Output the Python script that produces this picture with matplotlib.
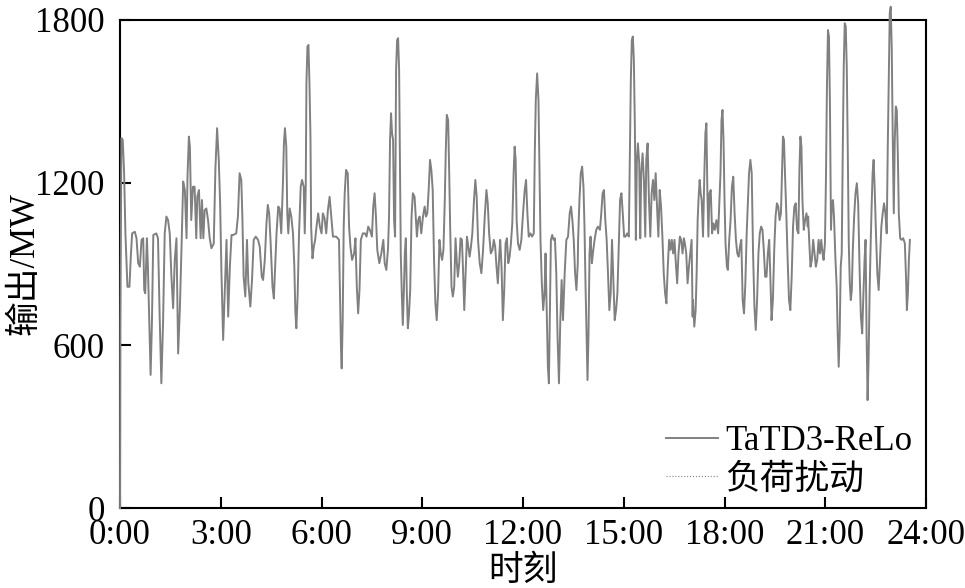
import matplotlib
matplotlib.use('Agg')
from matplotlib import pyplot as plt

plt.rcParams['font.family'] = ['Liberation Serif', 'Noto Sans CJK SC']
plt.rcParams['font.size'] = 25

# time (h) and output (MW)
t_h = [0.00, 0.01, 0.04, 0.08, 0.12, 0.16, 0.22, 0.28, 0.32, 0.36, 0.44, 0.49, 0.54, 0.59, 0.64, 0.69,
       0.72, 0.75, 0.80, 0.83, 0.88, 0.91, 0.95, 0.99, 1.08, 1.13, 1.18, 1.23, 1.28, 1.33, 1.38, 1.43,
       1.48, 1.53, 1.58, 1.63, 1.68, 1.73, 1.78, 1.83, 1.88, 1.93, 1.98, 2.01, 2.05, 2.08, 2.12, 2.17,
       2.22, 2.27, 2.30, 2.35, 2.40, 2.44, 2.48, 2.52, 2.57, 2.62, 2.67, 2.72, 2.79, 2.84, 2.89, 2.94,
       2.98, 3.02, 3.07, 3.12, 3.17, 3.22, 3.27, 3.32,
       3.37, 3.46, 3.51, 3.56, 3.61, 3.64, 3.68, 3.73, 3.78, 3.82, 3.88, 3.93, 3.98, 4.04, 4.11, 4.16,
       4.22, 4.26, 4.31, 4.36, 4.40, 4.44, 4.48, 4.54, 4.58, 4.62, 4.66, 4.71, 4.75, 4.80, 4.85, 4.88,
       4.91, 4.95, 4.98, 5.01, 5.05, 5.10, 5.15, 5.19, 5.22, 5.25, 5.29, 5.33, 5.38, 5.42, 5.47, 5.50,
       5.53, 5.55, 5.58, 5.61, 5.64, 5.67, 5.69, 5.73, 5.77, 5.81, 5.85, 5.90, 5.95, 6.00, 6.04, 6.09,
       6.14, 6.19, 6.24, 6.29, 6.34, 6.44, 6.52, 6.55, 6.58, 6.60, 6.63, 6.66, 6.69, 6.73, 6.78,
       6.82, 6.86, 6.91, 6.97, 7.01, 7.05, 7.09, 7.13, 7.17, 7.23, 7.29, 7.34, 7.39, 7.44, 7.50, 7.54,
       7.58, 7.62, 7.66, 7.72, 7.78, 7.84, 7.88, 7.93, 7.98, 8.01, 8.04, 8.07, 8.10, 8.13, 8.16, 8.19,
       8.22, 8.25, 8.28, 8.31, 8.34, 8.36, 8.39, 8.42, 8.45, 8.48, 8.51, 8.54, 8.57, 8.60, 8.64, 8.68,
       8.72, 8.77, 8.81, 8.84, 8.88, 8.92, 8.97, 9.02, 9.07, 9.11, 9.15, 9.19, 9.23, 9.27, 9.31, 9.35,
       9.39, 9.43, 9.47, 9.51, 9.55, 9.59, 9.63, 9.67, 9.70, 9.73, 9.77, 9.80, 9.83, 9.87, 9.91, 9.95,
       9.99, 10.03, 10.06, 10.10, 10.14, 10.18,
       10.21, 10.25, 10.29, 10.33, 10.37, 10.41, 10.45, 10.49, 10.54, 10.58, 10.62, 10.66, 10.71, 10.76,
       10.81, 10.86, 10.91, 10.95, 10.99, 11.04, 11.09, 11.13, 11.17, 11.21, 11.25, 11.29, 11.32, 11.36,
       11.40, 11.44, 11.48, 11.52, 11.56, 11.60, 11.64, 11.68, 11.72, 11.75, 11.78, 11.81, 11.85, 11.90,
       11.95, 12.00, 12.05, 12.09, 12.13, 12.17, 12.22, 12.27, 12.32, 12.35, 12.38, 12.42, 12.46, 12.49,
       12.52, 12.56, 12.60, 12.64, 12.67, 12.71, 12.74, 12.77, 12.80, 12.83, 12.87, 12.91, 12.95, 12.99,
       13.03, 13.07, 13.11, 13.15, 13.19, 13.24, 13.29, 13.34, 13.39, 13.43, 13.47, 13.51, 13.55, 13.59,
       13.63,
       13.64, 13.68, 13.72, 13.76, 13.80, 13.83, 13.86, 13.89, 13.92, 13.95, 13.98, 14.01, 14.05, 14.08,
       14.13, 14.18, 14.23, 14.29, 14.33, 14.37, 14.41, 14.45, 14.49, 14.53, 14.57, 14.61, 14.65, 14.69,
       14.73, 14.77, 14.81, 14.85, 14.89, 14.93, 14.97, 15.01, 15.05, 15.10, 15.15, 15.18, 15.21, 15.24,
       15.27, 15.30, 15.33, 15.36, 15.39, 15.42, 15.46, 15.49, 15.52, 15.56, 15.60, 15.64, 15.67, 15.71,
       15.75, 15.79, 15.83, 15.87, 15.91, 15.95, 15.99, 16.03, 16.07, 16.11, 16.15, 16.19, 16.23, 16.27,
       16.31, 16.35, 16.39, 16.43, 16.47, 16.51, 16.55, 16.59, 16.63, 16.67, 16.71, 16.75, 16.79, 16.82,
       16.86, 16.90, 16.94, 16.98, 17.02, 17.05,
       17.06, 17.10, 17.14, 17.17, 17.20, 17.23, 17.26, 17.29, 17.32, 17.36, 17.40, 17.43, 17.46, 17.49,
       17.52, 17.55, 17.59, 17.63, 17.67, 17.71, 17.76, 17.81, 17.85, 17.88, 17.91, 17.94, 17.97, 18.00,
       18.03, 18.07, 18.10, 18.14, 18.18, 18.22, 18.26, 18.30, 18.34, 18.38, 18.42, 18.46, 18.50, 18.54,
       18.58, 18.62, 18.66, 18.70, 18.73, 18.77, 18.81, 18.85, 18.89, 18.93, 18.97, 19.01, 19.05, 19.09,
       19.13, 19.17, 19.21, 19.25, 19.29, 19.33, 19.37, 19.40, 19.44, 19.48, 19.52, 19.56, 19.60, 19.64,
       19.68, 19.71, 19.74, 19.77, 19.80, 19.84, 19.88, 19.92, 19.96, 20.00, 20.04, 20.08, 20.12, 20.16,
       20.20, 20.23, 20.26, 20.29, 20.32, 20.36, 20.40, 20.44, 20.48,
       20.49, 20.52, 20.56, 20.60, 20.64, 20.68, 20.72, 20.76, 20.80, 20.84, 20.88, 20.92, 20.95, 20.99,
       21.02, 21.05, 21.08, 21.11, 21.14, 21.17, 21.20, 21.23, 21.26, 21.30, 21.34, 21.37, 21.40, 21.43,
       21.46, 21.49, 21.52, 21.55, 21.58, 21.61, 21.64, 21.67, 21.70, 21.73, 21.76, 21.79, 21.82, 21.86,
       21.90, 21.94, 21.98, 22.02, 22.06, 22.10, 22.13, 22.17, 22.20, 22.23, 22.26, 22.29, 22.32, 22.35,
       22.38, 22.41, 22.44, 22.47, 22.51, 22.55, 22.59, 22.63, 22.67, 22.71, 22.75, 22.79, 22.83, 22.86,
       22.89, 22.92, 22.95, 22.98, 23.01, 23.04, 23.07, 23.10, 23.13, 23.16, 23.19, 23.23, 23.27, 23.32,
       23.37, 23.41, 23.43, 23.46, 23.49, 23.52]

output_mw = [0, 670, 1364, 1358, 1241, 1013, 816, 816, 927, 1013, 1019, 995, 903, 890, 989, 995,
             804, 792, 995, 890, 632, 491, 687, 1007, 1013, 995, 706, 460, 681, 1013, 1075, 1062,
             1013, 853, 737, 915, 995, 570, 730, 958, 1204, 1173, 995, 1228, 1370, 1333, 1062, 1185,
             1185, 995, 1148, 1173, 995, 1136, 995, 1099, 1105, 1062, 995, 958, 975, 1253, 1401, 1284,
             1124, 866, 620, 804, 989, 706, 890, 1007,
             1007, 1013, 1075, 1235, 1210, 1087, 853, 780, 989, 829, 743, 841, 989, 1001, 989, 964,
             853, 841, 915, 1050, 1118, 1087, 989, 816, 773, 890, 1013, 1112, 1105, 1013, 1198, 1345,
             1401, 1333, 1087, 1013, 1105, 1075, 1013, 890, 724, 663, 792, 1013, 1185, 1210, 1185, 1013,
             1185, 1567, 1702, 1708, 1567, 1370, 1038, 921, 964, 989, 1038, 1087, 1038, 1013, 1087, 1068,
             1013, 1099, 1148, 1075, 1001, 1001, 989, 792, 583, 515, 693, 1038, 1161, 1247, 1235,
             1038, 964, 915, 939, 995, 816, 718, 804, 989, 1013, 1013, 1001, 1038, 1026, 1001, 1112,
             1161, 1075, 952, 903, 939, 989, 903, 878, 958, 1075, 1358, 1456, 1382, 1358, 1062, 1001,
             1616, 1726, 1733, 1616, 1210, 933, 792, 675, 792, 939, 995, 792, 663, 706, 804, 1075,
             1161, 1148, 1062, 1001, 1062, 1075, 1013, 1075, 1112, 1075, 1087, 1173, 1284, 1247, 1173, 915,
             755, 693, 792, 989, 939, 915, 952, 1136, 1321, 1450, 1431, 1247, 1038, 816, 780, 816,
             995, 903, 853, 903, 995, 989,
             890, 730, 866, 1001, 964, 927, 964, 1013, 1136, 1210, 1148, 989, 903, 866,
             952, 1075, 1173, 1124, 1013, 939, 952, 989, 964, 890, 829, 927, 989, 890,
             693, 804, 976, 995, 903, 927, 976, 1050, 1235, 1333, 1284, 1062, 976, 952,
             989, 1087, 1173, 1210, 1087, 1001, 1013, 1001, 1013, 1308, 1505, 1603, 1505, 1259,
             989, 829, 730, 792, 939, 706, 521, 460, 718, 989, 1007, 989, 995, 866,
             620, 460, 693, 841, 693, 866, 989, 1001, 1087, 1112, 1062, 989, 866, 804,
             903,
             989, 1136, 1235, 1259, 1185, 1038, 829, 657, 472, 644, 939, 1001, 903, 939,
             989, 1026, 1038, 1026, 1087, 1161, 1173, 1062, 989, 866, 730, 792, 989, 841,
             693, 730, 792, 964, 1136, 1161, 1087, 1001, 1001, 1013, 1001, 1296, 1579, 1726,
             1739, 1653, 1407, 989, 1284, 1345, 1271, 995, 1235, 1308, 1210, 1001, 1284, 1345,
             1136, 1001, 1161, 1210, 1136, 1235, 1112, 1001, 1173, 1112, 1001, 866, 792, 755,
             890, 989, 952, 989, 939, 989, 903, 829, 939, 1001, 989, 939, 995, 976,
             939, 829, 890, 939, 989, 706,
             767, 669, 730, 866, 1062, 1148, 1210, 1161, 1136, 1001, 1235, 1382, 1419, 1161,
             1001, 1161, 1173, 1013, 1050, 1026, 1062, 1013, 1136, 1235, 1431, 1468, 1358, 1136,
             976, 890, 878, 989, 1062, 1185, 1222, 1087, 989, 939, 927, 964, 989, 767,
             718, 829, 1013, 1136, 1235, 1284, 1235, 939, 743, 657, 767, 939, 1013, 1038,
             1026, 952, 853, 853, 939, 989, 829, 693, 767, 952, 1075, 1124, 1112, 1062,
             1087, 1235, 1370, 1358, 1235, 1087, 915, 767, 730, 853, 1038, 1112, 1124, 1026,
             1013, 1247, 1370, 1333, 1136, 1026, 1062, 1087, 1038,
             1075, 989, 890, 915, 989, 939, 890, 915, 989, 939, 989, 939, 915, 976,
             1210, 1554, 1763, 1739, 1481, 1026, 1124, 1136, 1075, 927, 816, 644, 521, 644,
             890, 939, 1308, 1628, 1788, 1776, 1628, 1321, 976, 829, 767, 804, 952, 1075,
             1161, 1198, 1124, 890, 706, 644, 767, 915, 989, 644, 398, 546, 792, 964,
             1112, 1235, 1284, 1185, 1013, 866, 804, 915, 1038, 1087, 1124, 1087, 1013, 1321,
             1567, 1825, 1849, 1690, 1358, 1087, 1358, 1481, 1468, 1308, 1087, 995, 989, 995,
             976, 829, 730, 792, 915, 989]

x_ticks = [0, 3, 6, 9, 12, 15, 18, 21, 24]
x_labels = ['0:00', '3:00', '6:00', '9:00', '12:00', '15:00', '18:00', '21:00', '24:00']
y_ticks = [0, 600, 1200, 1800]

fig = plt.figure(figsize=(9.65, 5.88), dpi=100)
ax = fig.add_axes([0.1244, 0.136, 0.8352, 0.830])

ax.plot(t_h, output_mw, color='#808080', lw=1.4, label='TaTD3-ReLo', clip_on=False, zorder=3)
ax.plot([], [], color='#808080', lw=0.8, ls=':', label='负荷扰动')  # disturbance series not visible in the figure

ax.set_xlim(0, 24)
ax.set_ylim(0, 1800)
ax.set_xticks(x_ticks)
ax.set_xticklabels(x_labels)
ax.set_yticks(y_ticks)
ax.tick_params(direction='in', length=8, width=1.5, top=False, right=False)
ax.tick_params(axis='x', pad=8)
ax.tick_params(axis='y', pad=11)
for s in ax.spines.values():
    s.set_linewidth(1.5)

ax.set_xlabel('时刻', labelpad=2)
ax.set_ylabel('输出/MW')
ax.yaxis.set_label_coords(-0.098, 0.5)

ax.legend(loc='lower right', frameon=False, handlelength=1.5, handletextpad=0.2,
          labelspacing=0.15, borderaxespad=0.0, bbox_to_anchor=(1.0, -0.005))

fig.savefig('out.png', dpi=100)
